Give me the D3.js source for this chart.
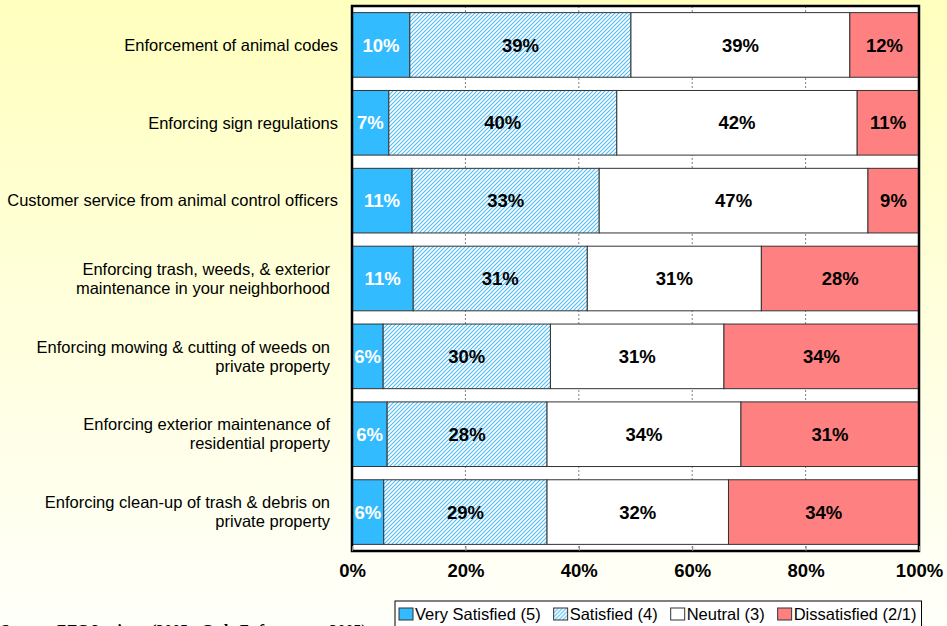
<!DOCTYPE html>
<html>
<head>
<meta charset="utf-8">
<script src="https://cdn.jsdelivr.net/npm/d3@7"></script>
<style>
  body { margin: 0; }
  svg { display: block; font-family: Arial, "Liberation Sans", sans-serif; }
</style>
</head>
<body>
<script>
// Survey categories (top to bottom), lines split for wrapping
const categories = [
    ["Enforcement of animal codes"],
    ["Enforcing sign regulations"],
    ["Customer service from animal control officers"],
    ["Enforcing trash, weeds, & exterior", "maintenance in your neighborhood"],
    ["Enforcing mowing & cutting of weeds on", "private property"],
    ["Enforcing exterior maintenance of", "residential property"],
    ["Enforcing clean-up of trash & debris on", "private property"]
];

const seriesNames = ["Very Satisfied (5)", "Satisfied (4)", "Neutral (3)", "Dissatisfied (2/1)"];

// percentages per category, same order as seriesNames
const verySatisfied = [10.2, 6.5, 10.6, 10.8, 5.5, 6.2, 5.6];
const satisfied     = [39.0, 40.2, 33.0, 30.7, 29.5, 28.2, 28.8];
const neutral       = [38.6, 42.4, 47.4, 30.7, 30.6, 34.2, 32.0];
const dissatisfied  = [12.2, 10.9, 9.0, 27.8, 34.4, 31.4, 33.6];

const xTicks = [0, 20, 40, 60, 80, 100];

const width = 947, height = 626;
const margin = {top: 6, right: 28, bottom: 75, left: 352};

const rows = categories.map((c, i) => ({
    key: i,
    lines: c,
    values: [verySatisfied[i], satisfied[i], neutral[i], dissatisfied[i]]
}));

const svg = d3.select("body").append("svg")
    .attr("width", width)
    .attr("height", height);

const defs = svg.append("defs");

// yellow-to-white page background
const grad = defs.append("linearGradient")
    .attr("id", "bg").attr("x1", 0).attr("y1", 0).attr("x2", 0).attr("y2", 1);
grad.append("stop").attr("offset", "0%").attr("stop-color", "#ffffbe");
grad.append("stop").attr("offset", "100%").attr("stop-color", "#fffffa");

// diagonal hatch for "Satisfied"
const hatch = defs.append("pattern")
    .attr("id", "hatch")
    .attr("patternUnits", "userSpaceOnUse")
    .attr("width", 4).attr("height", 4);
hatch.append("rect").attr("width", 4).attr("height", 4).attr("fill", "#ffffff");
hatch.append("path")
    .attr("d", "M-1,1 l2,-2 M0,4 l4,-4 M3,5 l2,-2")
    .attr("stroke", "#4dbdf5")
    .attr("stroke-width", 1.1);

const fills = ["#33bbff", "url(#hatch)", "#ffffff", "#ff8080"];
const labelColors = ["#ffffff", "#000000", "#000000", "#000000"];

svg.append("rect")
    .attr("width", width).attr("height", height)
    .attr("fill", "url(#bg)");

const x = d3.scaleLinear()
    .domain([0, 100])
    .range([margin.left, width - margin.right]);

const y = d3.scaleBand()
    .domain(rows.map(d => d.key))
    .range([margin.top, height - margin.bottom])
    .paddingInner(0.17)
    .paddingOuter(0.085);

// plot area
svg.append("rect")
    .attr("x", x(0)).attr("y", margin.top)
    .attr("width", x(100) - x(0))
    .attr("height", height - margin.bottom - margin.top)
    .attr("fill", "#ffffff");

// dotted vertical gridlines
svg.append("g")
    .selectAll("line")
    .data(xTicks.slice(1, -1))
    .join("line")
    .attr("x1", d => x(d)).attr("x2", d => x(d))
    .attr("y1", margin.top).attr("y2", height - margin.bottom)
    .attr("stroke", "#808080")
    .attr("stroke-dasharray", "2,2");

// stacked bars
const stack = d3.stack()
    .keys([0, 1, 2, 3])
    .value((d, k) => d.values[k]);
const stacked = stack(rows);

const layer = svg.append("g")
    .selectAll("g")
    .data(stacked)
    .join("g")
    .attr("fill", (d, i) => fills[i]);

layer.selectAll("rect")
    .data(d => d)
    .join("rect")
    .attr("x", d => x(d[0]))
    .attr("y", d => y(d.data.key))
    .attr("width", d => x(d[1]) - x(d[0]))
    .attr("height", y.bandwidth())
    .attr("stroke", "#333333")
    .attr("stroke-width", 1);

// value labels
svg.append("g")
    .selectAll("g")
    .data(stacked)
    .join("g")
    .attr("fill", (d, i) => labelColors[i])
    .selectAll("text")
    .data(d => d)
    .join("text")
    .attr("x", d => x((d[0] + d[1]) / 2))
    .attr("y", d => y(d.data.key) + y.bandwidth() / 2)
    .attr("dy", "0.36em")
    .attr("text-anchor", "middle")
    .attr("font-size", 18.5)
    .attr("font-weight", "bold")
    .text(d => Math.round(d[1] - d[0]) + "%");

// plot border
svg.append("rect")
    .attr("x", x(0)).attr("y", margin.top)
    .attr("width", x(100) - x(0))
    .attr("height", height - margin.bottom - margin.top)
    .attr("fill", "none")
    .attr("stroke", "#000000")
    .attr("stroke-width", 2.5);

// x axis
const xAxis = svg.append("g")
    .attr("transform", `translate(0,${height - margin.bottom})`)
    .call(d3.axisBottom(x).tickValues(xTicks).tickSize(5).tickSizeOuter(0).tickPadding(8)
        .tickFormat(d => d + "%"));
xAxis.select(".domain").remove();
xAxis.selectAll(".tick line").attr("stroke", "#808080").attr("transform", "translate(0,-5)");
xAxis.selectAll(".tick text")
    .attr("font-family", "Arial, 'Liberation Sans', sans-serif")
    .attr("font-size", 18.5)
    .attr("font-weight", "bold")
    .attr("fill", "#000");

// category labels
const catLabel = svg.append("g")
    .selectAll("text")
    .data(rows)
    .join("text")
    .attr("text-anchor", "end")
    .attr("font-size", 16.5)
    .attr("fill", "#000")
    .attr("transform", d => `translate(${x(0) - (d.lines.length > 1 ? 22 : 14)},${y(d.key) + y.bandwidth() / 2})`);

catLabel.selectAll("tspan")
    .data(d => d.lines.map((t, i) => ({t, i, n: d.lines.length})))
    .join("tspan")
    .attr("x", 0)
    .attr("y", d => (d.i - (d.n - 1) / 2) * 19)
    .attr("dy", "0.35em")
    .text(d => d.t);

// source note (mostly clipped at bottom)
svg.append("text")
    .attr("x", 0).attr("y", 636)
    .attr("font-family", "'Liberation Serif', 'DejaVu Serif', serif")
    .attr("font-size", 16)
    .attr("font-weight", "bold")
    .attr("font-style", "italic")
    .attr("fill", "#000")
    .text("Source:   ETC Institute (2005 - Code Enforcement 2005)");

// legend
const legend = svg.append("g").attr("transform", "translate(395,601)");
const legendBox = legend.append("rect")
    .attr("height", 30)
    .attr("fill", "#ffffff")
    .attr("stroke", "#000000")
    .attr("stroke-width", 1);

let lx = 4;
seriesNames.forEach((name, i) => {
    const item = legend.append("g").attr("transform", `translate(${lx},0)`);
    item.append("rect")
        .attr("x", 0).attr("y", 7)
        .attr("width", 14).attr("height", 12)
        .attr("fill", fills[i])
        .attr("stroke", "#333333");
    const t = item.append("text")
        .attr("x", 16).attr("y", 19)
        .attr("font-size", 16.5)
        .attr("fill", "#000")
        .text(name);
    lx += 16 + t.node().getComputedTextLength() + 13;
});
legendBox.attr("width", lx - 8);
</script>
</body>
</html>
